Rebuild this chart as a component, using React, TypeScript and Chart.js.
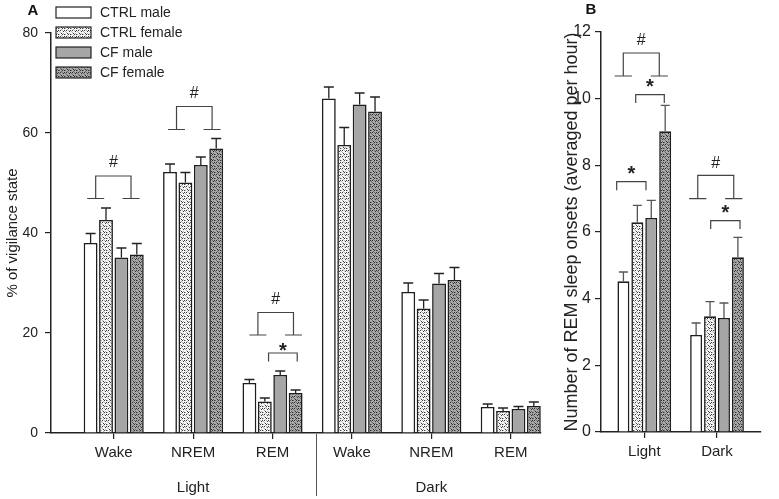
import React, { useEffect, useRef } from "react";
import { Chart, registerables } from "chart.js";

Chart.register(...registerables);

const FONT = "'Liberation Sans', Arial, Helvetica, sans-serif";

// ---------- Panel A data ----------
const stagesA = ["Wake", "NREM", "REM", "Wake", "NREM", "REM"];
const phasesA = ["Light", "Dark"];
const phaseCentersA = [2, 5];
const phaseDividerA = 3.55;
const groupLabels = ["CTRL male", "CTRL female", "CF male", "CF female"];

const ctrlMaleA = [38.0, 52.2, 10.0, 66.9, 28.2, 5.2];
const ctrlFemaleA = [42.6, 50.1, 6.3, 57.6, 24.9, 4.4];
const cfMaleA = [35.1, 53.6, 11.6, 65.7, 29.9, 4.8];
const cfFemaleA = [35.7, 56.9, 8.0, 64.3, 30.6, 5.4];

const ctrlMaleErrA = [1.9, 1.6, 0.7, 2.3, 1.8, 0.6];
const ctrlFemaleErrA = [2.4, 2.0, 0.7, 3.5, 1.7, 0.6];
const cfMaleErrA = [1.9, 1.6, 0.8, 2.3, 2.0, 0.5];
const cfFemaleErrA = [2.2, 2.0, 0.6, 2.9, 2.5, 0.8];

const yTicksA = [0, 20, 40, 60, 80];

// brackets: [x1, x2, yTop, yFoot]
const hashBracketsA = [
  [0.773, 1.218, 51.4, 46.9],
  [1.791, 2.239, 65.3, 60.7],
  [2.816, 3.264, 24.1, 19.6],
];
const starBracketsA = [[2.95, 3.311, 16.0, 14.3]];

// ---------- Panel B data ----------
const phasesB = ["Light", "Dark"];
const ctrlMaleB = [4.52, 2.91];
const ctrlFemaleB = [6.29, 3.47];
const cfMaleB = [6.42, 3.42];
const cfFemaleB = [9.02, 5.24];

const ctrlMaleErrB = [0.28, 0.36];
const ctrlFemaleErrB = [0.51, 0.44];
const cfMaleErrB = [0.53, 0.45];
const cfFemaleErrB = [0.78, 0.6];

const yTicksB = [0, 2, 4, 6, 8, 10, 12];

const hashBracketsB = [
  [0.711, 1.206, 11.37, 10.68],
  [1.735, 2.23, 7.7, 7.0],
];
const starBracketsB = [
  [0.882, 1.275, 10.12, 9.87],
  [0.62, 1.023, 7.51, 7.25],
  [1.913, 2.316, 6.34, 6.09],
];

function makePattern(bg: string, dark: string, mid: string) {
  const c = document.createElement("canvas");
  c.width = 6;
  c.height = 6;
  const g = c.getContext("2d")!;
  g.fillStyle = bg;
  g.fillRect(0, 0, 6, 6);
  g.fillStyle = mid;
  [[2, 0], [5, 1], [0, 2], [3, 3], [5, 4], [1, 5]].forEach(([x, y]) => g.fillRect(x, y, 1, 1));
  g.fillStyle = dark;
  [[0, 0], [3, 1], [1, 3], [4, 4], [4, 0], [2, 4]].forEach(([x, y]) => g.fillRect(x, y, 1, 1));
  return g.createPattern(c, "repeat")!;
}

const errorBarPlugin = {
  id: "errorBars",
  afterDatasetsDraw(chart: any, _args: any, opts: any) {
    const ctx = chart.ctx;
    const yScale = chart.scales.y;
    ctx.save();
    ctx.strokeStyle = opts.color;
    ctx.lineWidth = opts.width;
    chart.data.datasets.forEach((ds: any, i: number) => {
      const meta = chart.getDatasetMeta(i);
      meta.data.forEach((bar: any, j: number) => {
        const v = ds.data[j].y;
        const e = ds.errors[j];
        const yTop = bar.y;
        const yE = yScale.getPixelForValue(v + e);
        ctx.beginPath();
        ctx.moveTo(bar.x, yTop);
        ctx.lineTo(bar.x, yE);
        ctx.moveTo(bar.x - opts.cap / 2, yE);
        ctx.lineTo(bar.x + opts.cap / 2, yE);
        ctx.stroke();
      });
    });
    ctx.restore();
  },
};

const bracketPlugin = {
  id: "brackets",
  afterDatasetsDraw(chart: any, _args: any, opts: any) {
    const ctx = chart.ctx;
    const xs = chart.scales.x;
    const ys = chart.scales.y;
    ctx.save();
    ctx.strokeStyle = opts.color;
    ctx.lineWidth = 1.2;
    ctx.fillStyle = "#222";
    ctx.textAlign = "center";
    ctx.textBaseline = "middle";
    (opts.hash || []).forEach((b: number[]) => {
      const x1 = xs.getPixelForValue(b[0]);
      const x2 = xs.getPixelForValue(b[1]);
      const yT = ys.getPixelForValue(b[2]);
      const yF = ys.getPixelForValue(b[3]);
      const fh = opts.foot;
      ctx.beginPath();
      ctx.moveTo(x1, yF);
      ctx.lineTo(x1, yT);
      ctx.lineTo(x2, yT);
      ctx.lineTo(x2, yF);
      ctx.moveTo(x1 - fh, yF);
      ctx.lineTo(x1 + fh, yF);
      ctx.moveTo(x2 - fh, yF);
      ctx.lineTo(x2 + fh, yF);
      ctx.stroke();
      ctx.font = `16px ${FONT}`;
      ctx.fillText("#", (x1 + x2) / 2, yT - opts.hashGap);
    });
    (opts.star || []).forEach((b: number[]) => {
      const x1 = xs.getPixelForValue(b[0]);
      const x2 = xs.getPixelForValue(b[1]);
      const yT = ys.getPixelForValue(b[2]);
      const yE = ys.getPixelForValue(b[3]);
      ctx.beginPath();
      ctx.moveTo(x1, yE);
      ctx.lineTo(x1, yT);
      ctx.lineTo(x2, yT);
      ctx.lineTo(x2, yE);
      ctx.stroke();
      ctx.font = `bold 20px ${FONT}`;
      ctx.fillText("*", (x1 + x2) / 2, yT - opts.starGap);
    });
    ctx.restore();
  },
};

const decorPlugin = {
  id: "decor",
  afterDraw(chart: any, _args: any, opts: any) {
    const ctx = chart.ctx;
    const xs = chart.scales.x;
    ctx.save();
    ctx.fillStyle = "#111";
    ctx.textAlign = "center";
    ctx.textBaseline = "middle";
    ctx.font = `bold 15px ${FONT}`;
    ctx.fillText(opts.letter, opts.letterX, opts.letterY);
    if (opts.phases) {
      ctx.font = `15px ${FONT}`;
      ctx.fillStyle = "#222";
      opts.phases.forEach((p: string, i: number) => {
        ctx.fillText(p, xs.getPixelForValue(opts.phaseCenters[i]), 488);
      });
      const xd = Math.round(xs.getPixelForValue(opts.divider)) + 0.5;
      ctx.strokeStyle = "#555";
      ctx.lineWidth = 1;
      ctx.beginPath();
      ctx.moveTo(xd, chart.chartArea.bottom + 1);
      ctx.lineTo(xd, 496);
      ctx.stroke();
    }
    if (opts.legend) {
      ctx.textAlign = "left";
      ctx.font = `14px ${FONT}`;
      chart.data.datasets.forEach((ds: any, i: number) => {
        const y = 7 + i * 20;
        ctx.fillStyle = ds.backgroundColor;
        ctx.fillRect(56, y, 35, 11);
        ctx.strokeStyle = "#222";
        ctx.lineWidth = 1.2;
        ctx.strokeRect(56, y, 35, 11);
        ctx.fillStyle = "#222";
        ctx.fillText(ds.label, 100, y + 6);
      });
    }
    ctx.restore();
  },
};

function axisCommon(tickFont: number, tickLen: number, pad: number) {
  return {
    offset: false,
    grid: { offset: false, drawOnChartArea: false, drawTicks: true, tickLength: tickLen, color: "#222", lineWidth: 1.2 },
    border: { display: true, color: "#222", width: 1.5 },
    ticks: { color: "#222", font: { family: FONT, size: tickFont }, padding: pad, autoSkip: false, maxRotation: 0 },
  };
}

function buildDatasets(series: number[][], errs: number[][], fills: any[], catPct: number, barPct: number) {
  return groupLabels.map((label, k) => ({
    label,
    data: series[k].map((y, i) => ({ x: i + 1, y })),
    errors: errs[k],
    backgroundColor: fills[k],
    borderColor: "#1e1e1e",
    borderWidth: 1.6,
    categoryPercentage: catPct,
    barPercentage: barPct,
  }));
}

export default function App() {
  const refA = useRef<HTMLCanvasElement>(null);
  const refB = useRef<HTMLCanvasElement>(null);

  useEffect(() => {
    const fills = [
      "#ffffff",
      makePattern("#f6f6f6", "#3a3a3a", "#b0b0b0"),
      "#a6a6a6",
      makePattern("#a9a9a9", "#2e2e2e", "#6a6a6a"),
    ];

    const xA = axisCommon(15, 6, 5);
    const yA = axisCommon(14, 6, 7);
    const chartA = new Chart(refA.current!, {
      type: "bar",
      data: {
        datasets: buildDatasets(
          [ctrlMaleA, ctrlFemaleA, cfMaleA, cfFemaleA],
          [ctrlMaleErrA, ctrlFemaleErrA, cfMaleErrA, cfFemaleErrA],
          fills,
          0.776,
          0.9
        ) as any,
      },
      options: {
        responsive: false,
        animation: false,
        layout: { padding: { left: 0, top: 33, right: 19, bottom: 0 } },
        scales: {
          x: {
            type: "linear",
            min: 0.2103,
            max: 6.381,
            ...xA,
            ticks: { ...xA.ticks, callback: (v: any) => stagesA[Math.round(v) - 1] ?? "" },
            afterBuildTicks: (axis: any) => {
              axis.ticks = stagesA.map((_, i) => ({ value: i + 1 }));
            },
            afterFit: (axis: any) => {
              axis.height = 66;
            },
          } as any,
          y: {
            type: "linear",
            min: 0,
            max: 80,
            ...yA,
            afterBuildTicks: (axis: any) => {
              axis.ticks = yTicksA.map((v) => ({ value: v }));
            },
            afterFit: (axis: any) => {
              axis.width = 51;
            },
            title: {
              display: true,
              text: "% of vigilance state",
              color: "#222",
              font: { family: FONT, size: 15 },
              padding: { top: 4, bottom: 0 },
            },
          } as any,
        },
        plugins: {
          legend: { display: false },
          tooltip: { enabled: false },
          errorBars: { color: "#222", width: 1.3, cap: 10 },
          brackets: { color: "#444", hash: hashBracketsA, star: starBracketsA, foot: 8.5, hashGap: 13, starGap: 2 },
          decor: {
            letter: "A",
            letterX: 33,
            letterY: 11,
            phases: phasesA,
            phaseCenters: phaseCentersA,
            divider: phaseDividerA,
            legend: true,
          },
        } as any,
      },
      plugins: [errorBarPlugin, bracketPlugin, decorPlugin],
    });

    const xB = axisCommon(15, 6, 5);
    const yB = axisCommon(16, 6, 4);
    const chartB = new Chart(refB.current!, {
      type: "bar",
      data: {
        datasets: buildDatasets(
          [ctrlMaleB, ctrlFemaleB, cfMaleB, cfFemaleB],
          [ctrlMaleErrB, ctrlFemaleErrB, cfMaleErrB, cfFemaleErrB],
          fills,
          0.766,
          0.86
        ) as any,
      },
      options: {
        responsive: false,
        animation: false,
        layout: { padding: { left: 0, top: 32, right: 18, bottom: 0 } },
        scales: {
          x: {
            type: "linear",
            min: 0.4044,
            max: 2.605,
            ...xB,
            ticks: { ...xB.ticks, callback: (v: any) => phasesB[Math.round(v) - 1] ?? "" },
            afterBuildTicks: (axis: any) => {
              axis.ticks = phasesB.map((_, i) => ({ value: i + 1 }));
            },
            afterFit: (axis: any) => {
              axis.height = 67;
            },
          } as any,
          y: {
            type: "linear",
            min: 0,
            max: 12,
            ...yB,
            afterBuildTicks: (axis: any) => {
              axis.ticks = yTicksB.map((v) => ({ value: v }));
            },
            afterFit: (axis: any) => {
              axis.width = 56;
            },
            title: {
              display: true,
              text: "Number of REM sleep onsets (averaged per hour)",
              color: "#222",
              font: { family: FONT, size: 18 },
              padding: { top: 16, bottom: 0 },
            },
          } as any,
        },
        plugins: {
          legend: { display: false },
          tooltip: { enabled: false },
          errorBars: { color: "#555", width: 1.3, cap: 9 },
          brackets: { color: "#444", hash: hashBracketsB, star: starBracketsB, foot: 8.6, hashGap: 12, starGap: 7 },
          decor: { letter: "B", letterX: 46, letterY: 10 },
        } as any,
      },
      plugins: [errorBarPlugin, bracketPlugin, decorPlugin],
    });

    return () => {
      chartA.destroy();
      chartB.destroy();
    };
  }, []);

  return (
    <div style={{ position: "absolute", left: 0, top: 0, width: 779, height: 499, background: "#fff" }}>
      <canvas ref={refA} width={560} height={499} style={{ position: "absolute", left: 0, top: 0 }} />
      <canvas ref={refB} width={234} height={499} style={{ position: "absolute", left: 545, top: 0 }} />
    </div>
  );
}
